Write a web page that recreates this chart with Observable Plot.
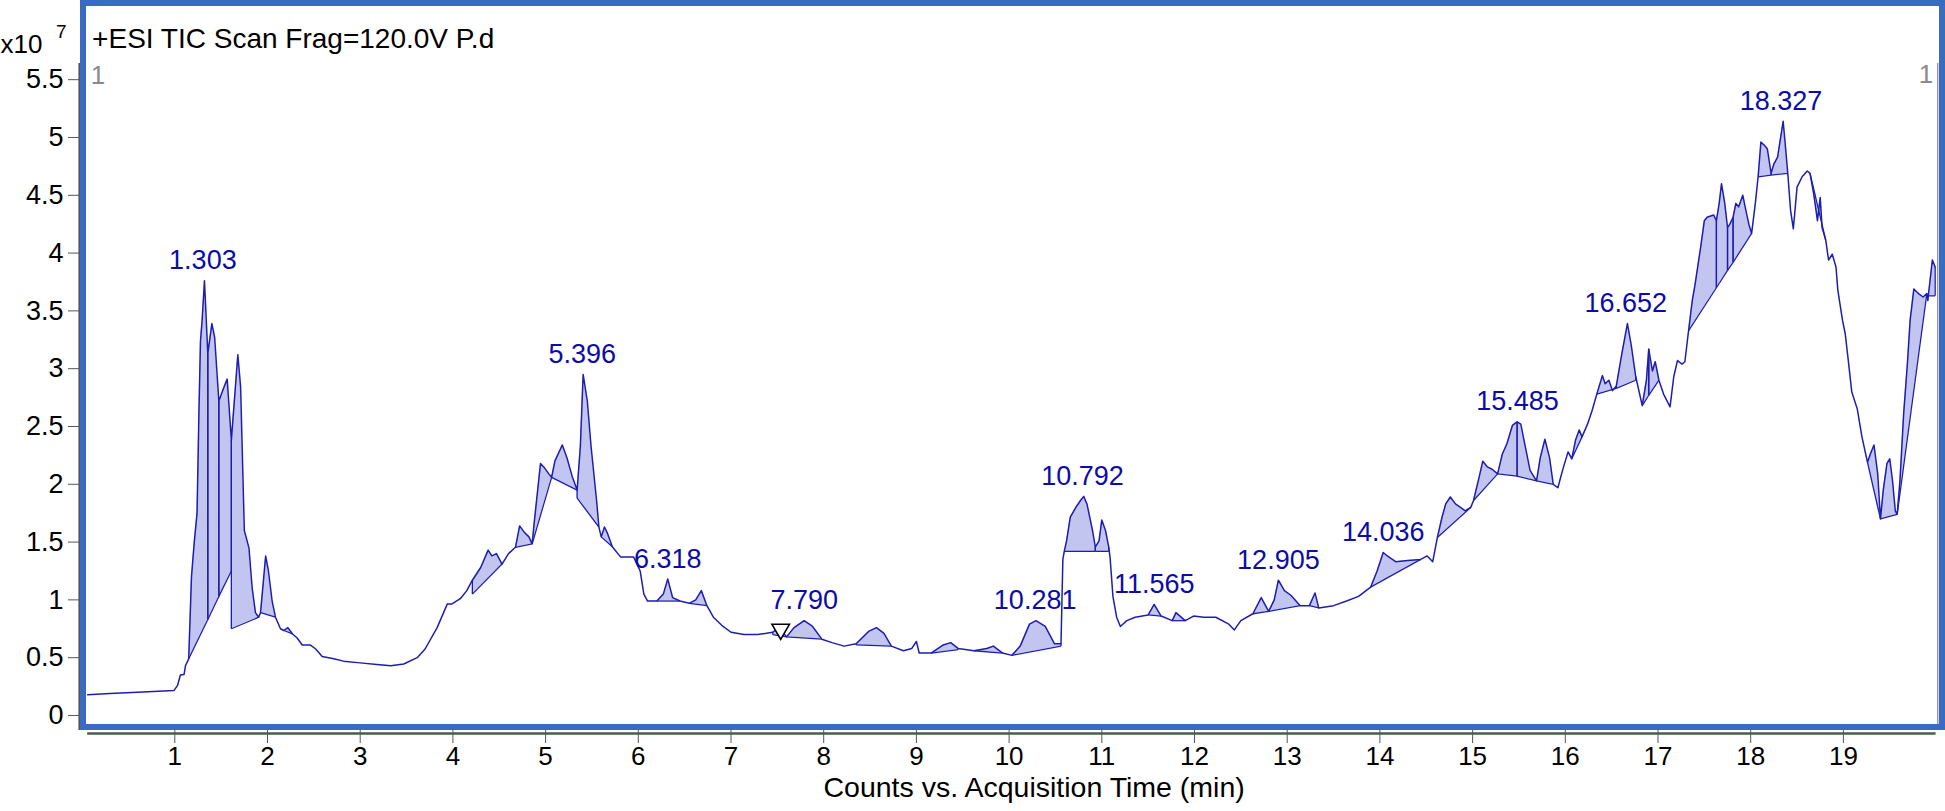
<!DOCTYPE html>
<html><head><meta charset="utf-8">
<script src="https://cdn.jsdelivr.net/npm/d3@7"></script>
<script src="https://cdn.jsdelivr.net/npm/@observablehq/plot@0.6"></script>
<style>
html,body{margin:0;padding:0;background:#fff;}
#chart{position:relative;width:1945px;height:811px;overflow:hidden;}
</style></head><body><div id="chart"></div>
<script>
// Total ion chromatogram: [time (min), counts x10^7]
const trace = [[0.06,0.18],[0.3,0.19],[0.6,0.2],[0.99,0.215],[1.03,0.26],[1.06,0.35],[1.10,0.355],[1.115,0.43],[1.15,0.49],[1.18,1.2],[1.21,1.5],[1.24,1.75],[1.26,2.61],[1.277,3.24],[1.295,3.42],[1.32,3.76],[1.356,3.13],[1.40,3.39],[1.43,3.27],[1.475,2.72],[1.53,2.84],[1.565,2.91],[1.61,2.38],[1.68,3.12],[1.71,2.84],[1.75,1.60],[1.80,1.45],[1.835,1.10],[1.87,0.89],[1.905,0.85],[1.925,0.89],[1.98,1.38],[2.01,1.25],[2.05,0.99],[2.086,0.85],[2.14,0.75],[2.176,0.735],[2.22,0.76],[2.27,0.705],[2.32,0.67],[2.375,0.61],[2.46,0.61],[2.52,0.575],[2.59,0.51],[2.715,0.49],[2.82,0.47],[3.0,0.455],[3.18,0.44],[3.33,0.43],[3.47,0.445],[3.615,0.50],[3.70,0.575],[3.83,0.76],[3.94,0.965],[3.99,0.965],[4.08,1.01],[4.15,1.08],[4.21,1.17],[4.30,1.28],[4.38,1.43],[4.42,1.38],[4.47,1.40],[4.53,1.31],[4.60,1.40],[4.675,1.455],[4.72,1.64],[4.765,1.59],[4.82,1.545],[4.855,1.485],[4.88,1.69],[4.945,2.18],[4.99,2.14],[5.035,2.09],[5.065,2.06],[5.10,2.20],[5.18,2.34],[5.23,2.23],[5.29,2.06],[5.34,1.95],[5.375,2.33],[5.405,2.95],[5.45,2.72],[5.49,2.33],[5.55,1.86],[5.575,1.63],[5.60,1.545],[5.635,1.63],[5.665,1.58],[5.72,1.46],[5.81,1.37],[5.95,1.37],[6.02,1.25],[6.06,1.05],[6.1,0.99],[6.2,0.99],[6.27,1.05],[6.318,1.18],[6.37,1.02],[6.45,0.99],[6.55,0.97],[6.62,1.0],[6.68,1.08],[6.74,0.95],[6.81,0.85],[6.9,0.78],[7.0,0.72],[7.14,0.70],[7.29,0.70],[7.45,0.72],[7.52,0.76],[7.60,0.68],[7.68,0.76],[7.79,0.82],[7.88,0.77],[7.98,0.66],[8.09,0.63],[8.22,0.60],[8.35,0.62],[8.49,0.73],[8.57,0.76],[8.65,0.71],[8.73,0.60],[8.86,0.56],[8.95,0.58],[9.0,0.64],[9.03,0.54],[9.16,0.54],[9.29,0.61],[9.37,0.63],[9.45,0.58],[9.62,0.56],[9.76,0.58],[9.83,0.60],[9.93,0.54],[10.03,0.52],[10.12,0.60],[10.22,0.79],[10.29,0.82],[10.39,0.77],[10.49,0.62],[10.56,0.62],[10.58,1.35],[10.595,1.42],[10.62,1.51],[10.66,1.715],[10.72,1.80],[10.77,1.86],[10.805,1.895],[10.84,1.83],[10.90,1.60],[10.93,1.456],[10.97,1.51],[11.0,1.69],[11.04,1.60],[11.075,1.456],[11.09,1.36],[11.12,1.03],[11.16,0.85],[11.2,0.77],[11.27,0.82],[11.36,0.85],[11.5,0.87],[11.565,0.96],[11.64,0.86],[11.76,0.82],[11.8,0.89],[11.9,0.82],[11.99,0.86],[12.1,0.85],[12.23,0.85],[12.37,0.79],[12.43,0.74],[12.5,0.82],[12.63,0.88],[12.72,1.02],[12.8,0.90],[12.86,1.0],[12.905,1.17],[12.97,1.08],[13.04,1.04],[13.14,0.95],[13.24,0.95],[13.3,1.06],[13.34,0.93],[13.5,0.95],[13.64,0.99],[13.77,1.03],[13.9,1.11],[13.97,1.25],[14.036,1.41],[14.08,1.38],[14.17,1.33],[14.3,1.34],[14.44,1.35],[14.51,1.38],[14.57,1.33],[14.62,1.54],[14.67,1.715],[14.71,1.83],[14.76,1.89],[14.815,1.83],[14.87,1.80],[14.92,1.77],[14.98,1.80],[15.01,1.86],[15.07,2.06],[15.11,2.20],[15.16,2.15],[15.21,2.13],[15.27,2.09],[15.32,2.26],[15.37,2.35],[15.43,2.51],[15.48,2.54],[15.52,2.52],[15.57,2.32],[15.62,2.12],[15.69,2.03],[15.73,2.23],[15.78,2.39],[15.83,2.23],[15.87,2.0],[15.92,1.97],[15.97,2.12],[16.0,2.2],[16.03,2.28],[16.07,2.22],[16.11,2.38],[16.15,2.47],[16.18,2.41],[16.24,2.52],[16.29,2.64],[16.34,2.78],[16.40,2.94],[16.43,2.87],[16.47,2.90],[16.51,2.81],[16.55,2.85],[16.61,3.13],[16.67,3.39],[16.71,3.21],[16.76,2.93],[16.83,2.68],[16.875,2.90],[16.90,3.17],[16.94,2.98],[16.97,3.06],[17.01,2.90],[17.06,2.78],[17.13,2.67],[17.17,2.93],[17.21,3.07],[17.26,3.04],[17.29,3.06],[17.33,3.33],[17.37,3.59],[17.40,3.73],[17.46,4.05],[17.50,4.28],[17.53,4.31],[17.60,4.33],[17.63,4.28],[17.66,4.43],[17.685,4.60],[17.72,4.43],[17.75,4.22],[17.775,4.25],[17.81,4.31],[17.84,4.43],[17.87,4.40],[17.915,4.50],[17.94,4.40],[17.98,4.25],[18.01,4.17],[18.05,4.43],[18.08,4.66],[18.11,4.96],[18.15,4.93],[18.18,4.90],[18.22,4.69],[18.25,4.77],[18.29,4.83],[18.35,5.14],[18.375,4.92],[18.40,4.69],[18.43,4.37],[18.46,4.21],[18.50,4.57],[18.555,4.66],[18.61,4.71],[18.64,4.69],[18.68,4.51],[18.72,4.28],[18.75,4.48],[18.77,4.22],[18.81,4.11],[18.84,3.94],[18.88,3.99],[18.92,3.88],[18.94,3.68],[18.99,3.42],[19.02,3.30],[19.06,3.02],[19.09,2.80],[19.15,2.65],[19.20,2.41],[19.26,2.19],[19.29,2.26],[19.33,2.34],[19.37,2.09],[19.40,1.70],[19.43,1.95],[19.47,2.18],[19.50,2.22],[19.53,2.03],[19.56,1.77],[19.58,1.74],[19.61,2.03],[19.65,2.61],[19.69,3.04],[19.72,3.42],[19.76,3.69],[19.81,3.65],[19.86,3.62],[19.90,3.65],[19.91,3.59],[19.96,3.94],[19.99,3.88]];

// Integrated peaks: [start time, end time, baseline at start, baseline at end]
const peaks = [[1.15,1.356,0.49,0.83],[1.356,1.475,0.83,1.03],[1.475,1.61,1.03,1.25],[1.61,1.905,0.75,0.85],[1.925,2.086,0.89,0.85],[2.176,2.27,0.735,0.705],[4.21,4.53,1.05,1.31],[4.675,4.855,1.455,1.485],[4.855,5.065,1.485,2.06],[5.065,5.34,2.06,1.95],[5.34,5.575,1.88,1.63],[5.60,5.72,1.545,1.46],[6.2,6.45,0.99,0.99],[6.55,6.74,0.97,0.95],[7.45,7.60,0.70,0.68],[7.60,7.98,0.68,0.66],[8.35,8.73,0.61,0.60],[9.16,9.45,0.54,0.57],[9.62,9.93,0.56,0.54],[10.03,10.56,0.52,0.60],[10.595,10.93,1.42,1.42],[10.93,11.075,1.42,1.42],[11.5,11.64,0.87,0.86],[11.76,11.9,0.82,0.82],[12.63,12.8,0.88,0.90],[12.8,13.14,0.90,0.95],[13.24,13.34,0.95,0.93],[13.9,14.44,1.11,1.35],[14.62,14.98,1.54,1.80],[15.01,15.27,1.86,2.09],[15.27,15.48,2.09,2.07],[15.48,15.69,2.07,2.03],[15.69,15.87,2.03,2.0],[16.07,16.18,2.22,2.41],[16.34,16.55,2.78,2.83],[16.55,16.76,2.83,2.90],[16.83,16.90,2.68,2.77],[16.90,17.01,2.77,2.90],[17.33,17.63,3.33,3.70],[17.63,17.75,3.70,3.85],[17.75,17.81,3.85,3.92],[17.81,18.01,3.92,4.17],[18.08,18.22,4.66,4.675],[18.22,18.40,4.675,4.69],[18.64,18.81,4.69,4.11],[19.26,19.40,2.19,1.70],[19.40,19.58,1.70,1.74],[19.58,19.90,1.74,3.65],[19.91,19.99,3.63,3.63]];

// Peak labels (retention time) and apex heights
const labelRT = [1.303,5.396,6.318,7.790,10.281,10.792,11.565,12.905,14.036,15.485,16.652,18.327];
const labelApex = [3.76,2.95,1.18,0.82,0.82,1.895,0.96,1.17,1.41,2.54,3.39,5.14];
const labelText = ["1.303","5.396","6.318","7.790","10.281","10.792","11.565","12.905","14.036","15.485","16.652","18.327"];

// Manual marker
const markerTime = [7.536];
const markerCounts = [0.745];

const xTicks = [1,2,3,4,5,6,7,8,9,10,11,12,13,14,15,16,17,18,19];
const yTicks = [0,0.5,1,1.5,2,2.5,3,3.5,4,4.5,5,5.5];

const title = "+ESI TIC Scan Frag=120.0V P.d";
const xLabel = "Counts vs. Acquisition Time (min)";

// ---- build mark data ----
const traceData = trace.map(([t, v]) => ({t, v}));
const valueAt = t => { const p = traceData.find(d => Math.abs(d.t - t) < 1e-6); return p ? p.v : null; };
const areaData = [];
const dropData = [];
peaks.forEach(([t0, t1, b0, b1], id) => {
  traceData.filter(d => d.t >= t0 - 1e-6 && d.t <= t1 + 1e-6).forEach(d => {
    areaData.push({id, t: d.t, v: d.v, b: b0 + (b1 - b0) * (d.t - t0) / (t1 - t0)});
  });
  dropData.push({t: t0, a: b0, c: valueAt(t0)});
  dropData.push({t: t1, a: b1, c: valueAt(t1)});
});
const baseData = peaks.map(([t0, t1, b0, b1]) => ({t0, t1, b0, b1}));
const labels = labelRT.map((t, i) => ({t, v: labelApex[i], s: labelText[i]}));

const LINE = "#1e1eae";
const FONT = "'Liberation Sans', Arial, Helvetica, sans-serif";

const plot = Plot.plot({
  width: 1945, height: 811,
  marginLeft: 81.6, marginRight: 9.4, marginTop: 63, marginBottom: 81,
  x: {domain: [0, 20], axis: null},
  y: {domain: [-0.13, 5.64], axis: null},
  style: {fontFamily: FONT, color: "black", background: "white"},
  marks: [
    Plot.areaY(areaData, {x: "t", y1: "b", y2: "v", z: "id", fill: "#c3c5f1", curve: "linear"}),
    Plot.link(baseData, {x1: "t0", y1: "b0", x2: "t1", y2: "b1", stroke: LINE, strokeWidth: 1.3}),
    Plot.link(dropData, {x1: "t", y1: "a", x2: "t", y2: "c", stroke: LINE, strokeWidth: 1.3}),
    Plot.line(traceData, {x: "t", y: "v", stroke: LINE, strokeWidth: 1.5, curve: "linear"}),
    Plot.text(labels, {x: "t", y: "v", text: "s", fill: "#0c0ca6", fontSize: 27, dy: -20, lineAnchor: "middle", textAnchor: "middle"}),
    Plot.dot(markerTime.map((t, i) => ({t, v: markerCounts[i]})), {x: "t", y: "v", symbol: "triangle", rotate: 180, r: 6.5, fill: "white", stroke: "black", strokeWidth: 1.6}),
    Plot.axisY(yTicks, {tickSize: 11, tickPadding: 5, fontSize: 27, tickFormat: d => String(d), stroke: "#555", dx: -2.6}),
    Plot.axisX(xTicks, {tickSize: 13, tickPadding: 3, fontSize: 26, tickFormat: d => String(d), stroke: "#555"}),
    Plot.ruleX([0], {stroke: "#555", strokeWidth: 2.2, dx: -2.6}),
    Plot.ruleX([20], {stroke: "#999", strokeWidth: 1.5, dx: 1.6}),
    Plot.ruleY([-0.13], {stroke: "#555", strokeWidth: 2.5, dy: 3, x1: 0.06, x2: 20}),
    Plot.text(["1"], {frameAnchor: "top-left", dx: 16, dy: 2, fill: "#8a8a8a", fontSize: 26, textAnchor: "middle"}),
    Plot.text(["1"], {frameAnchor: "top-right", dx: -10, dy: 1, fill: "#8a8a8a", fontSize: 26, textAnchor: "middle"}),
    Plot.text([title], {frameAnchor: "top-left", dx: 10, dy: -35, fontSize: 28, textAnchor: "start", fill: "black"}),
    Plot.text(["x10"], {frameAnchor: "top-left", dx: -81.6, dy: -29, fontSize: 26, textAnchor: "start", fill: "black"}),
    Plot.text(["7"], {frameAnchor: "top-left", dx: -26, dy: -39, fontSize: 19, textAnchor: "start", fill: "black"}),
    Plot.text([xLabel], {frameAnchor: "bottom", dx: 25, dy: 66, fontSize: 28.5, fill: "black"})
  ]
});
document.getElementById("chart").appendChild(plot);
// blue outer frame of the chromatogram panel
d3.select(plot).append("rect")
  .attr("x", 83).attr("y", 3).attr("width", 1859).attr("height", 724)
  .attr("fill", "none").attr("stroke", "#3a6bc3").attr("stroke-width", 6);
</script>
</body></html>
